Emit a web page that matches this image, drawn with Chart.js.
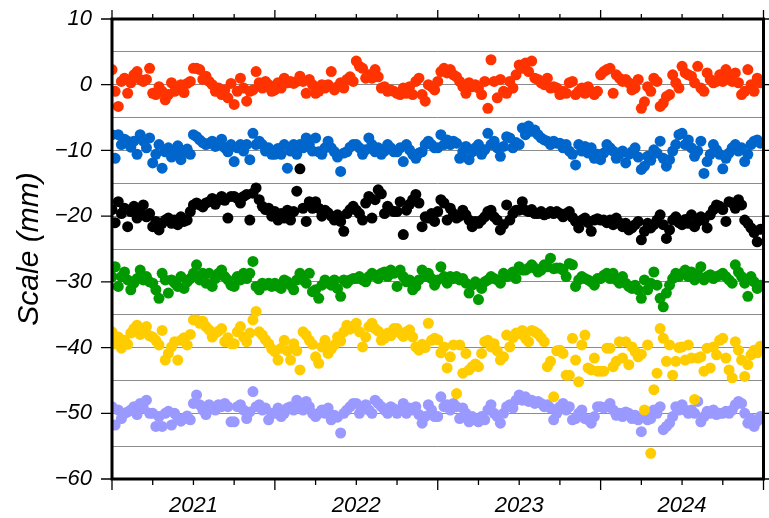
<!DOCTYPE html>
<html>
<head>
<meta charset="utf-8">
<script src="https://cdn.jsdelivr.net/npm/chart.js@4/dist/chart.umd.min.js"></script>
<style>
  html, body { margin: 0; padding: 0; background: #fff; }
  #wrap { position: relative; width: 769px; height: 518px; }
</style>
</head>
<body>
<div id="wrap"><canvas id="scale_chart"></canvas></div>
<script>
// weekly solutions, first epoch at 2021.0, 13 weeks per row (one quarter)
const startYear = 2021.0;
const weekStep = 1 / 52;

const red = [
  2.3, -1, -3.3, 0.5, 1, -1.3, 0.3, 1.5, 2, 0.8, 0.5, 0.8, 2.5,
  -1.3, -1.5, -0.3, -1, -2.3, -1.5, 0.3, -1, -0.5, 0, -1.2, 0.2, 0.5,
  2.5, 2.5, 2.3, 0.8, 1.3, 0.5, 0, -1, -0.5, -1.5, -0.8, -2, 0.2,
  -3, -1, 1, -0.5, -2.5, -1, -0.8, 2, 0.3, -0.5, 0.5, 0, -1,
  -0.8, 0.3, -0.5, 1, 0.3, 0.5, 0.2, 0.5, 1.3, 0.5, -1.3, 0.8, 0,
  -1.3, -1, 0, -0.5, 0, 2, -0.8, -0.3, 0.3, -0.5, 0.8, 1.2, 0.5,
  3.6, 2.8, 2.5, 1, 1.5, 1, 2.3, 1.2, -0.5, -0.3, -1, -0.8, -1,
  -1.3, -1.5, -0.5, -1.3, -0.3, -1.5, 0.5, 1, -1.5, -2.5, 0, -0.3, -0.8,
  0.5, 2.0, 2.5, 1.8, 2.3, 1.5, 1.2, 0.5, -0.3, -1.3, 0.3, -0.3, 0,
  -0.5, -1.5, 0.5, -3.6, 3.8, 0.5, -2, 0.8, -1, -1.3, 0.5, -0.5, 1.5,
  3.0, 2.5, 3.3, 2, 3.6, 1, 0.8, 0.3, 0, 1, -0.5, -0.3, -0.5,
  -1.5, -1, -1.3, 0.3, 0.5, -1.5, -1, -0.5, -1.3, -0.3, -1, -1.5, -1,
  1.5, 2.0, 2.3, 2.5, -1.3, 1.5, 1, 0.5, 0.8, 0.3, -0.8, -0.5, 0.8,
  -3.6, -2.6, -0.3, -1, 1, 0.5, -3.3, -2.8, -1.8, -1.5, 1.5, 0.3, -0.5,
  2.8, 1.8, 1.5, 1.3, 0.3, 2.8, -0.5, -1, 1.8, 0.8, 0.3, 0.5, 1.5,
  0.5, 2.3, 1.5, 0.5, 1.8, 0.3, -1.5, -1, 2.3, 0, -1, 1, 0.3
];

const blue = [
  -7.6, -11.2, -7.6, -9.1, -8.3, -8.6, -9.5, -8.6, -10.6, -7.6, -8.6, -9.6, -8.1,
  -11.9, -10.6, -9.1, -12.7, -10.2, -9.6, -11, -10.6, -9.3, -11.4, -10.2, -9.8, -10.6,
  -7.6, -7.9, -8.4, -8.8, -9.1, -8.9, -8.6, -9.4, -9.1, -8.3, -9.6, -10.2, -9.1,
  -11.7, -9.6, -9.1, -10.1, -9.1, -11.4, -7.4, -9.1, -8.6, -9.1, -10.1, -9.6, -10.6,
  -10.6, -9.7, -10.6, -9.1, -12.7, -10.1, -9.1, -10.6, -9.1, -9.6, -8.1, -9.1, -10.1,
  -8.1, -10.2, -10.6, -9.6, -8.6, -9.6, -10.2, -11, -13.2, -10.4, -10.2, -9.5, -9.1,
  -9.1, -9.6, -10.6, -9.9, -8.1, -9.1, -10.2, -9.6, -10.6, -10.1, -9.1, -9.6, -10.2,
  -10.2, -9.6, -11.7, -9.1, -9.9, -10.6, -11.2, -10.4, -10.2, -9.1, -8.6, -9.1, -9.6,
  -9.6, -7.6, -9.1, -8.4, -9.1, -8.6, -8.9, -11.2, -10.2, -9.4, -11.4, -10.2, -9.6,
  -9.1, -10.6, -9.9, -7.4, -9.1, -8.6, -9.6, -10.9, -9.4, -7.9, -8.1, -9.6, -8.8,
  -9.1, -6.6, -7.6, -6.3, -7.1, -6.9, -7.6, -8.1, -8.4, -8.6, -9.1, -8.6, -8.9,
  -8.9, -9.6, -9.1, -10.1, -10.6, -12.2, -9.1, -10.1, -9.4, -10.4, -9.6, -11.2, -10.6,
  -11.4, -10.4, -9.1, -9.6, -10.1, -11.2, -10.6, -10.1, -11.9, -10.6, -10.2, -9.6, -11,
  -12.9, -12.4, -10.9, -11.5, -9.9, -10.4, -8.6, -11.2, -12.4, -11.4, -10.1, -9.1, -7.6,
  -7.4, -9.1, -8.4, -9.6, -10.9, -10.1, -8.6, -13.5, -11.7, -10.6, -9.1, -9.9, -10.6,
  -12.8, -11.2, -10.4, -9.6, -9.1, -10.1, -9.6, -11.7, -10.6, -9.1, -8.6, -8.4, -8.9
];

const black = [
  -19.0, -21.0, -17.8, -19.6, -18.8, -21.6, -19.3, -18.5, -20.3, -19.3, -18.3, -20.1, -19.6,
  -21.6, -20.8, -22.1, -21.1, -20.6, -20.3, -21.1, -20.6, -21.3, -20.1, -20.8, -20.6, -19.3,
  -18.3, -18.0, -18.3, -18.6, -18.0, -17.8, -17.3, -18.2, -17.5, -17.0, -17.6, -20.3, -17.0,
  -17.0, -17.3, -18.0, -17.0, -16.7, -20.6, -16.5, -15.7, -17.5, -18.5, -19.0, -18.8, -20.0,
  -19.3, -20.6, -19.6, -20.3, -19.1, -20.6, -19.3, -16.2, -12.8, -18.8, -20.8, -17.8, -18.8,
  -17.8, -18.8, -20.0, -19.1, -19.5, -20.0, -20.6, -19.8, -20.8, -22.3, -19.6, -19.0, -18.5,
  -19.1, -19.6, -20.6, -18.0, -17.0, -20.3, -17.5, -16.0, -16.6, -19.6, -18.5, -19.1, -19.3,
  -19.3, -17.8, -22.8, -19.1, -18.2, -17.5, -16.7, -18.0, -21.6, -20.1, -20.3, -19.6, -20.8,
  -19.3, -17.5, -18.0, -20.6, -18.8, -19.6, -20.3, -20.0, -19.1, -19.8, -20.6, -21.6, -20.8,
  -21.1, -20.6, -20.1, -19.3, -19.1, -20.1, -20.6, -22.1, -21.3, -18.3, -20.6, -19.6, -19.1,
  -19.1, -17.8, -19.1, -19.3, -19.0, -19.6, -19.6, -19.3, -19.8, -19.6, -19.3, -19.6, -19.3,
  -19.6, -20.1, -19.6, -19.3, -20.2, -20.8, -21.8, -20.6, -20.3, -21.0, -22.3, -20.6, -20.4,
  -20.6, -20.6, -21.0, -20.6, -21.3, -20.3, -21.0, -21.6, -21.1, -22.1, -21.8, -21.3, -20.8,
  -23.6, -22.3, -21.1, -21.8, -21.3, -20.6, -19.8, -21.3, -23.4, -22.1, -20.6, -20.1, -21.0,
  -21.3, -20.5, -21.1, -19.8, -21.6, -20.8, -20.1, -20.6, -21.8, -19.8, -19.0, -18.3, -18.5,
  -19.0, -20.8, -17.8, -18.0, -18.8, -17.5, -18.3, -20.6, -21.1, -21.8, -22.5, -23.9, -22.0
];

const green = [
  -29.2, -27.7, -30.7, -29.2, -28.5, -29.7, -31.2, -30.2, -29.5, -28.2, -29.7, -29.2, -30.0,
  -30.2, -31.2, -32.5, -28.7, -29.7, -31.7, -29.7, -30.2, -30.7, -29.2, -31.0, -30.0, -29.5,
  -28.7, -27.4, -29.7, -28.7, -30.2, -28.7, -30.7, -29.5, -28.7, -28.2, -29.2, -29.7, -30.5,
  -30.7, -29.2, -29.7, -28.7, -29.5, -28.7, -26.9, -30.7, -31.2, -30.2, -30.5, -30.2, -30.7,
  -30.2, -30.7, -31.0, -29.7, -30.0, -30.5, -31.2, -29.7, -28.7, -29.7, -30.2, -28.7, -31.5,
  -31.2, -32.5, -30.5, -29.7, -30.2, -30.5, -29.7, -31.0, -32.2, -29.7, -30.2, -29.7, -29.5,
  -29.5, -29.2, -29.7, -30.0, -29.2, -28.7, -29.0, -29.5, -28.7, -28.5, -29.2, -28.2, -28.7,
  -30.7, -28.2, -29.2, -30.0, -29.7, -31.2, -30.7, -29.7, -28.2, -29.2, -28.7, -29.5, -30.5,
  -29.7, -27.7, -29.2, -30.2, -29.2, -29.5, -29.2, -29.7, -29.5, -30.2, -31.7, -30.5, -30.0,
  -32.7, -31.0, -30.0, -29.7, -29.2, -29.5, -29.7, -30.2, -28.7, -29.2, -29.0, -28.5, -29.5,
  -27.7, -28.2, -28.2, -27.9, -27.4, -27.9, -28.5, -28.2, -27.4, -27.7, -26.4, -28.0, -27.9,
  -27.9, -28.2, -29.2, -27.2, -27.4, -30.7, -29.7, -29.2, -29.5, -29.7, -30.0, -30.5, -29.5,
  -29.5, -29.0, -28.7, -29.5, -28.7, -29.7, -30.2, -29.2, -30.2, -30.7, -31.0, -30.5, -31.2,
  -32.5, -29.7, -31.2, -30.2, -28.5, -30.5, -32.5, -33.8, -31.7, -30.5, -29.5, -28.7, -29.2,
  -28.7, -28.2, -29.2, -28.5, -29.7, -28.9, -27.7, -29.7, -29.2, -28.9, -29.5, -29.2, -29.0,
  -28.7, -29.2, -29.7, -30.2, -27.4, -28.5, -29.2, -30.2, -32.2, -29.2, -30.0, -31.0, -30.5
];

const yellow = [
  -37.6, -39.4, -38.4, -40.1, -38.9, -39.5, -37.8, -37.1, -36.6, -38.0, -37.6, -36.8, -38.2,
  -38.4, -38.9, -39.6, -37.4, -41.9, -40.9, -39.9, -39.1, -41.9, -38.9, -38.5, -39.6, -38.0,
  -35.8, -35.8, -36.3, -36.0, -36.8, -37.3, -38.4, -37.8, -37.5, -37.1, -39.1, -38.5, -39.4,
  -39.4, -37.6, -36.8, -38.4, -39.1, -37.8, -35.8, -34.5, -37.6, -38.1, -38.8, -39.4, -40.2,
  -40.6, -41.9, -40.1, -38.9, -40.5, -41.9, -39.4, -40.5, -43.4, -37.6, -38.1, -38.9, -39.5,
  -41.4, -42.4, -39.9, -38.9, -40.9, -40.2, -39.6, -38.4, -39.0, -37.6, -36.6, -37.2, -36.8,
  -36.3, -37.6, -39.9, -38.4, -36.8, -36.3, -37.1, -37.5, -38.9, -38.6, -37.8, -38.2, -37.1,
  -37.1, -37.8, -38.3, -37.6, -37.3, -38.4, -39.9, -40.4, -39.5, -40.0, -36.3, -38.9, -38.6,
  -38.8, -40.8, -39.9, -43.1, -41.4, -39.6, -47.0, -39.6, -43.9, -40.9, -43.4, -42.9, -42.5,
  -42.9, -40.9, -39.1, -38.9, -39.9, -39.4, -40.5, -41.9, -41.4, -38.1, -39.9, -38.5, -37.8,
  -37.9, -37.4, -38.6, -39.1, -37.4, -37.6, -37.9, -38.5, -39.1, -42.9, -42.1, -47.5, -40.5,
  -40.4, -40.9, -44.2, -44.2, -38.6, -41.9, -45.2, -39.6, -38.1, -43.1, -43.4, -41.6, -43.6,
  -43.6, -43.6, -40.1, -40.1, -42.9, -42.1, -39.1, -41.6, -39.1, -42.6, -39.9, -40.6, -41.4,
  -41.0, -49.5, -39.6, -56.1, -46.4, -43.9, -37.1, -38.6, -42.1, -39.6, -44.2, -42.1, -40.0,
  -39.9, -41.9, -39.6, -41.6, -47.9, -41.6, -41.4, -43.6, -40.1, -43.1, -39.9, -41.1, -38.9,
  -38.6, -41.6, -43.4, -44.6, -39.1, -40.4, -41.9, -44.4, -42.6, -41.1, -40.4, -40.8, -39.8
];

const purple = [
  -49.0, -51.8, -49.5, -50.8, -50.0, -49.8, -49.5, -49.0, -50.2, -48.5, -49.2, -48.0, -50.0,
  -50.0, -52.0, -50.5, -52.0, -50.0, -49.7, -51.8, -50.0, -50.8, -51.2, -50.8, -50.4, -51.0,
  -48.5, -47.2, -48.7, -49.5, -50.2, -48.7, -49.2, -49.5, -48.7, -49.0, -48.5, -49.0, -51.3,
  -51.3, -49.0, -48.7, -49.5, -50.8, -49.8, -46.7, -49.0, -48.7, -49.5, -49.2, -51.0, -50.0,
  -50.0, -49.2, -50.5, -50.0, -49.2, -49.0, -49.5, -48.0, -48.5, -49.5, -48.2, -49.0, -50.0,
  -50.5, -50.0, -49.5, -50.0, -49.2, -51.0, -50.3, -50.6, -53.0, -50.0, -49.5, -49.0, -48.5,
  -48.5, -50.0, -49.0, -48.7, -49.5, -50.0, -48.0, -48.5, -49.0, -49.5, -50.0, -49.0, -49.3,
  -50.0, -49.5, -48.5, -50.0, -49.2, -49.5, -49.0, -50.2, -51.5, -50.5, -48.7, -49.5, -50.5,
  -50.5, -47.5, -49.0, -48.7, -49.5, -48.5, -49.0, -50.8, -49.2, -50.0, -51.3, -50.5, -51.0,
  -51.3, -50.5, -51.0, -49.5, -48.7, -50.0, -50.5, -51.5, -50.0, -49.0, -48.7, -49.2, -48.0,
  -47.2, -48.0, -47.5, -48.2, -48.0, -48.5, -48.2, -48.5, -49.0, -48.7, -49.2, -51.0, -50.0,
  -49.0, -48.5, -49.5, -49.0, -51.0, -50.8, -50.0, -49.5, -50.8, -51.0, -51.5, -50.5, -49.0,
  -49.0, -49.2, -49.0, -48.5, -49.5, -50.3, -50.0, -50.5, -49.8, -50.0, -50.8, -50.3, -51.0,
  -52.8, -50.5, -51.0, -50.8, -49.5, -50.0, -49.0, -52.5, -52.0, -51.5, -50.5, -49.0, -49.5,
  -48.7, -49.5, -50.0, -49.5, -50.0, -48.2, -51.3, -50.5, -49.7, -50.0, -49.5, -50.2, -50.0,
  -50.0, -49.7, -50.0, -49.5, -48.7, -48.2, -48.5, -50.0, -51.5, -50.8, -52.0, -51.2, -50.5
];

const seriesList = [red, blue, black, green, yellow, purple];
const seriesColors = ['#ff3300', '#0066cc', '#000000', '#009900', '#ffcc00', '#9999ff'];

const yearLabels = [2021, 2022, 2023, 2024];
const yMin = -60, yMax = 10;
const xMin = 2021, xMax = 2025;

function toPoints(values) {
  return values.map(function (v, i) {
    return { x: startYear + i * weekStep, y: v };
  });
}

function minusSign(v) {
  return v < 0 ? '\u2212' + Math.abs(v) : String(v);
}

const tickFont = { family: "'Liberation Sans', Arial, sans-serif", size: 22, style: 'italic' };

// frame and outward ticks drawn like GMT
const framePlugin = {
  id: 'frame',
  afterDraw: function (chart) {
    const ctx = chart.ctx;
    const a = chart.chartArea;
    const xs = chart.scales.x, ys = chart.scales.y;
    ctx.save();
    ctx.strokeStyle = '#000';
    ctx.lineWidth = 1.3;
    ctx.beginPath();
    xs.ticks.forEach(function (t) {
      const px = xs.getPixelForValue(t.value);
      const major = Math.abs(t.value - Math.round(t.value)) < 1e-6;
      ctx.moveTo(px, a.bottom);
      ctx.lineTo(px, a.bottom + (major ? 11 : 6));
      ctx.moveTo(px, a.top);
      ctx.lineTo(px, a.top - (major ? 9 : 5));
    });
    ys.ticks.forEach(function (t) {
      if (t.value % 10 !== 0) return;
      const py = ys.getPixelForValue(t.value);
      ctx.moveTo(a.left, py);
      ctx.lineTo(a.left - 11, py);
      ctx.moveTo(a.right, py);
      ctx.lineTo(a.right + 6, py);
    });
    ctx.stroke();
    ctx.lineWidth = 3;
    ctx.strokeRect(a.left, a.top, a.right - a.left, a.bottom - a.top);
    ctx.restore();
  }
};

function scale_time_series() {
  const config = {
    type: 'scatter',
    data: {
      datasets: seriesList.map(function (s, k) {
        return {
          data: toPoints(s),
          backgroundColor: seriesColors[k],
          borderWidth: 0,
          pointRadius: 5.5,
          pointHoverRadius: 5.5
        };
      })
    },
    options: {
      responsive: true,
      maintainAspectRatio: false,
      animation: false,
      layout: { padding: { top: 19, right: 5, left: 0, bottom: 0 } },
      plugins: { legend: { display: false }, tooltip: { enabled: false } },
      scales: {
        x: {
          type: 'linear',
          min: xMin,
          max: xMax,
          border: { display: false },
          grid: { display: true, drawOnChartArea: false, drawTicks: true, tickLength: 10, tickColor: 'rgba(0,0,0,0)' },
          ticks: {
            stepSize: 0.25,
            autoSkip: false,
            maxRotation: 0,
            padding: 4,
            color: '#000',
            font: tickFont,
            callback: function (v) {
              const y = Math.floor(v);
              return (Math.abs(v - y - 0.5) < 1e-6 && yearLabels.indexOf(y) >= 0) ? String(y) : '';
            }
          },
          afterFit: function (scale) {
            scale.height = 39;
            scale.paddingLeft = 0;
            scale.paddingRight = 0;
          }
        },
        y: {
          min: yMin,
          max: yMax,
          border: { display: false },
          grid: {
            drawTicks: false,
            lineWidth: 1,
            color: function (c) {
              const v = c.tick.value;
              return (v === yMin || v === yMax) ? 'rgba(0,0,0,0)' : '#8c8c8c';
            }
          },
          ticks: {
            stepSize: 5,
            padding: 20,
            color: '#000',
            font: tickFont,
            callback: function (v) { return v % 10 === 0 ? minusSign(v) : ''; }
          },
          title: {
            display: true,
            text: 'Scale (mm)',
            color: '#000',
            font: { family: "'Liberation Sans', Arial, sans-serif", size: 30, style: 'italic' },
            padding: { top: 12, bottom: 0 }
          },
          afterFit: function (scale) {
            scale.width = 112;
            scale.paddingTop = 0;
            scale.paddingBottom = 0;
          }
        }
      }
    },
    plugins: [framePlugin]
  };
  return new Chart(document.getElementById('scale_chart').getContext('2d'), config);
}

scale_time_series();
</script>
</body>
</html>
